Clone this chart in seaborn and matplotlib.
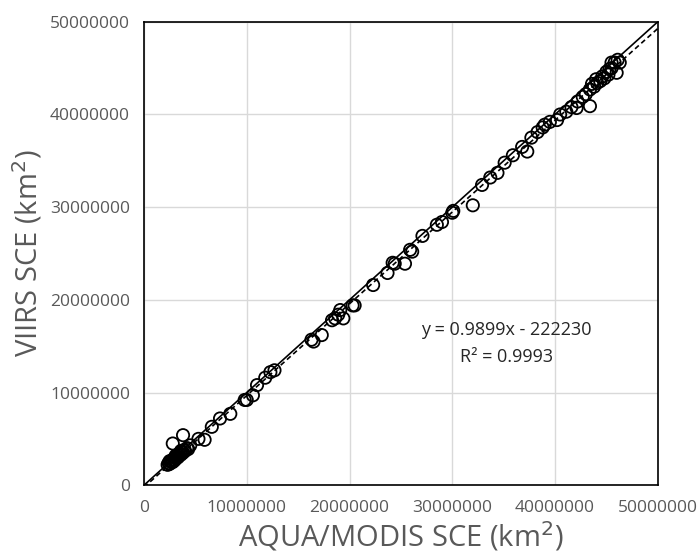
import numpy as np
import pandas as pd
import seaborn as sns
import matplotlib.pyplot as plt

# SCE values in millions of km2
modis_sce = [2.3, 2.4, 2.5, 2.6, 2.7, 2.8, 2.9, 3.0, 3.0, 3.1, 3.2, 3.3, 3.3, 3.4,
             3.5, 3.6, 3.7, 3.8, 3.9, 4.0, 4.2, 4.3, 4.5, 2.5, 2.8, 3.1, 3.6,
             2.8, 3.8, 5.9, 5.3, 6.6, 7.4, 8.4, 9.8, 10.0, 10.6, 11.0, 11.8, 12.3,
             12.7, 16.3, 16.5, 17.3, 18.3, 18.6, 18.9, 19.1, 19.4, 20.3, 20.5,
             22.3, 23.7, 24.2, 24.4, 25.4, 25.9, 26.1, 27.1, 28.5, 29.0, 30.0,
             30.1, 32.0, 32.9, 33.7, 34.4, 35.1, 35.9, 36.8, 37.3, 37.7, 38.3,
             38.8, 39.0, 39.5, 40.2, 40.5, 41.1, 41.6, 42.1, 42.2, 43.4, 42.7,
             43.0, 43.4, 43.8, 44.1, 44.4, 44.6, 44.8, 45.0, 45.2, 45.5, 45.5,
             45.8, 46.0, 46.1, 46.3, 44.0, 43.6, 45.3]
viirs_sce = [2.2, 2.4, 2.3, 2.6, 2.5, 2.7, 2.8, 2.7, 3.0, 2.9, 3.1, 3.0, 3.3, 3.2,
             3.4, 3.3, 3.6, 3.5, 3.8, 3.7, 4.0, 3.9, 4.3, 2.6, 2.5, 3.2, 3.7,
             4.5, 5.4, 4.9, 5.0, 6.3, 7.2, 7.7, 9.2, 9.2, 9.7, 10.8, 11.6, 12.2,
             12.4, 15.7, 15.5, 16.2, 17.8, 18.0, 18.4, 18.9, 18.0, 19.4, 19.4,
             21.6, 22.9, 24.0, 23.9, 23.9, 25.4, 25.2, 26.9, 28.1, 28.4, 29.4,
             29.6, 30.2, 32.4, 33.2, 33.7, 34.8, 35.6, 36.5, 36.0, 37.5, 38.1,
             38.6, 38.9, 39.2, 39.4, 40.0, 40.3, 40.8, 40.7, 41.4, 40.9, 41.9,
             42.2, 42.7, 43.0, 43.4, 43.6, 44.1, 43.9, 44.6, 44.3, 45.0, 45.6,
             45.6, 44.5, 45.9, 45.6, 43.8, 43.3, 44.9]

slope = 0.9899
intercept = -222230
r2 = 0.9993
axis_ticks = [0, 10000000, 20000000, 30000000, 40000000, 50000000]

df = pd.DataFrame({'modis': np.array(modis_sce) * 1e6,
                   'viirs': np.array(viirs_sce) * 1e6})

sns.set_style('white')
plt.rcParams['font.family'] = ['Open Sans', 'DejaVu Sans']

fig, ax = plt.subplots(figsize=(6.99, 5.59), dpi=100)
fig.subplots_adjust(left=0.206, right=0.941, top=0.961, bottom=0.132)

# 1:1 line and regression line
line_x = np.array([axis_ticks[0], axis_ticks[-1]])
ax.plot(line_x, line_x, color='black', lw=1.2, zorder=2)
ax.plot(line_x, slope * line_x + intercept, color='black', lw=1.2,
        ls=(0, (3, 2)), zorder=2)

sns.scatterplot(data=df, x='modis', y='viirs', ax=ax, s=78,
                facecolor='none', edgecolor='black', linewidth=1.3, zorder=3)

ax.set_xlim(0, 50000000)
ax.set_ylim(0, 50000000)
ax.set_xticks(axis_ticks)
ax.set_yticks(axis_ticks)
ax.set_xticklabels([str(t) for t in axis_ticks])
ax.set_yticklabels([str(t) for t in axis_ticks])
ax.tick_params(length=0, labelsize=12.5, labelcolor='#595959')
ax.tick_params(axis='x', pad=11)
ax.tick_params(axis='y', pad=10)
ax.grid(True, color='#d9d9d9', lw=1.0)
ax.set_axisbelow(True)
for sp in ax.spines.values():
    sp.set_color('black')
    sp.set_linewidth(1.2)

ax.set_xlabel('AQUA/MODIS SCE (km$^2$)', fontsize=21, color='#595959', labelpad=2)
ax.set_ylabel('VIIRS SCE (km$^2$)', fontsize=21, color='#595959', labelpad=4)

ax.text(35300000, 16700000, 'y = 0.9899x - 222230', ha='center', va='center',
        fontsize=13, color='#262626')
ax.text(35300000, 13800000, 'R² = 0.9993', ha='center', va='center',
        fontsize=13, color='#262626')

plt.savefig('out.png', dpi=100)
